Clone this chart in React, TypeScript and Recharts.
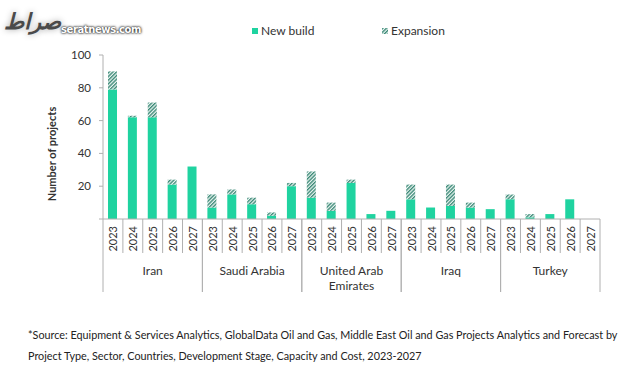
import React from 'react';
import { BarChart, Bar, XAxis, YAxis, Legend } from 'recharts';

const countries = ['Iran', 'Saudi Arabia', 'United Arab Emirates', 'Iraq', 'Turkey'];
const years = ['2023', '2024', '2025', '2026', '2027'];
const newBuild = [79, 62, 62, 21, 32, 7, 15, 9, 2, 20, 13, 5, 22, 3, 5, 12, 7, 8, 7, 6, 12, 1, 3, 12, 0];
const expansion = [11, 1, 9, 3, 0, 8, 3, 4, 2, 2, 16, 5, 2, 0, 0, 9, 0, 13, 3, 0, 3, 2, 0, 0, 0];
const yTicks = [0, 20, 40, 60, 80, 100];
const footnote1 = '*Source: Equipment & Services Analytics, GlobalData Oil and Gas, Middle East Oil and Gas Projects Analytics and Forecast by';
const footnote2 = 'Project Type, Sector, Countries, Development Stage, Capacity and Cost, 2023-2027';

const data = countries.flatMap((c, ci) =>
  years.map((y, yi) => ({
    key: `${c}-${y}`,
    country: c,
    year: y,
    newBuild: newBuild[ci * 5 + yi],
    expansion: expansion[ci * 5 + yi],
  }))
);

const W = 640;
const H = 382;
const LEFT = 103;
const RIGHT = 40;
const TOP = 55;
const AXIS_Y = 219;
const BAND = (W - LEFT - RIGHT) / data.length;
const FONT = 'Lato, "Open Sans", sans-serif';
const GREEN = '#1fd3a0';
const GRID = '#b0b0b0';

const XTick = (props: any) => {
  const { x, payload } = props;
  const i: number = payload.index ?? props.index;
  const row = data[i];
  const half = BAND / 2;
  const pos = i % 5;
  const els: React.ReactNode[] = [];
  els.push(
    <text
      key="yr"
      x={x}
      y={226}
      transform={`rotate(-90 ${x} 226)`}
      textAnchor="end"
      dominantBaseline="central"
      fontSize={11}
      fill="#333"
      fontFamily={FONT}
    >
      {row.year}
    </text>
  );
  if (pos === 0) {
    els.push(<line key="l0" x1={x - half} x2={x - half} y1={AXIS_Y} y2={292} stroke={GRID} />);
  }
  if (pos === 4) {
    els.push(<line key="lg" x1={x + half} x2={x + half} y1={AXIS_Y} y2={292} stroke={GRID} />);
  } else {
    els.push(<line key="ly" x1={x + half} x2={x + half} y1={AXIS_Y} y2={253} stroke={GRID} />);
  }
  if (pos === 2) {
    const lines = row.country === 'United Arab Emirates' ? ['United Arab', 'Emirates'] : [row.country];
    lines.forEach((t, li) => {
      els.push(
        <text
          key={`c${li}`}
          x={x}
          y={270 + li * 15}
          textAnchor="middle"
          dominantBaseline="central"
          fontSize={12}
          fill="#333"
          fontFamily={FONT}
        >
          {t}
        </text>
      );
    });
  }
  return <g>{els}</g>;
};

const LegendContent = () => (
  <div style={{ position: 'relative', height: 20, fontFamily: FONT, fontSize: 12, color: '#333' }}>
    <span style={{ position: 'absolute', left: 252, top: 5, width: 6, height: 6, background: GREEN }} />
    <span style={{ position: 'absolute', left: 261, top: 0, lineHeight: '16px' }}>New build</span>
    <svg style={{ position: 'absolute', left: 382, top: 5 }} width={6} height={6}>
      <rect width={6} height={6} fill="url(#hatch)" />
    </svg>
    <span style={{ position: 'absolute', left: 391, top: 0, lineHeight: '16px' }}>Expansion</span>
  </div>
);

export default function App() {
  return (
    <div style={{ position: 'absolute', left: 0, top: 0, width: W, height: H, background: '#fff' }}>
      <BarChart width={W} height={H} data={data} margin={{ top: TOP, right: RIGHT, left: 0, bottom: 63 }} barSize={9}>
        <defs>
          <pattern id="hatch" patternUnits="userSpaceOnUse" width={2.6} height={2.6} patternTransform="rotate(45)">
            <rect width={2.6} height={2.6} fill="#eef8f5" />
            <line x1={0.7} y1={0} x2={0.7} y2={2.6} stroke="#3d8a77" strokeWidth={1.4} />
          </pattern>
        </defs>
        <XAxis
          dataKey="key"
          interval={0}
          height={100}
          tickLine={false}
          axisLine={{ stroke: GRID }}
          tick={(p: any) => <XTick {...p} />}
        />
        <YAxis
          width={LEFT}
          domain={[0, 100]}
          ticks={yTicks}
          tickFormatter={(v: number) => (v === 0 ? '' : String(v))}
          axisLine={{ stroke: GRID }}
          tickLine={{ stroke: GRID }}
          tickSize={4}
          tickMargin={8}
          tick={{ fontSize: 11.5, fill: '#333', fontFamily: FONT }}
          label={{
            content: () => (
              <text
                x={51}
                y={154}
                transform="rotate(-90 51 154)"
                textAnchor="middle"
                dominantBaseline="central"
                fontSize={11}
                fontWeight="bold"
                fill="#333"
                fontFamily={FONT}
              >
                Number of projects
              </text>
            ),
          }}
        />
        <Legend
          verticalAlign="middle"
          align="center"
          content={() => <LegendContent />}
          wrapperStyle={{ top: 23, left: 0, width: W }}
        />
        <Bar dataKey="newBuild" name="New build" stackId="a" fill={GREEN} isAnimationActive={false} />
        <Bar dataKey="expansion" name="Expansion" stackId="a" fill="url(#hatch)" isAnimationActive={false} />
      </BarChart>
      <div style={{ position: 'absolute', left: 4, top: 8, fontFamily: '"DejaVu Sans", sans-serif', fontSize: 22, fontWeight: 'bold', fontStyle: 'italic', color: '#4a4a4a', textShadow: '0 0 6px #aaa', lineHeight: '28px' }}>
        صراط
      </div>
      <div style={{ position: 'absolute', left: 61, top: 23, fontFamily: '"DejaVu Sans", sans-serif', fontSize: 10, fontWeight: 'bold', letterSpacing: -0.4, color: '#fff', textShadow: '0 0 2px #000, 0 0 3px #333', lineHeight: '14px' }}>
        seratnews.com
      </div>
      <div style={{ position: 'absolute', left: 28, top: 324, fontFamily: FONT, fontSize: 10.8, color: '#222', lineHeight: '21px', whiteSpace: 'nowrap' }}>
        <div>{footnote1}</div>
        <div>{footnote2}</div>
      </div>
    </div>
  );
}
